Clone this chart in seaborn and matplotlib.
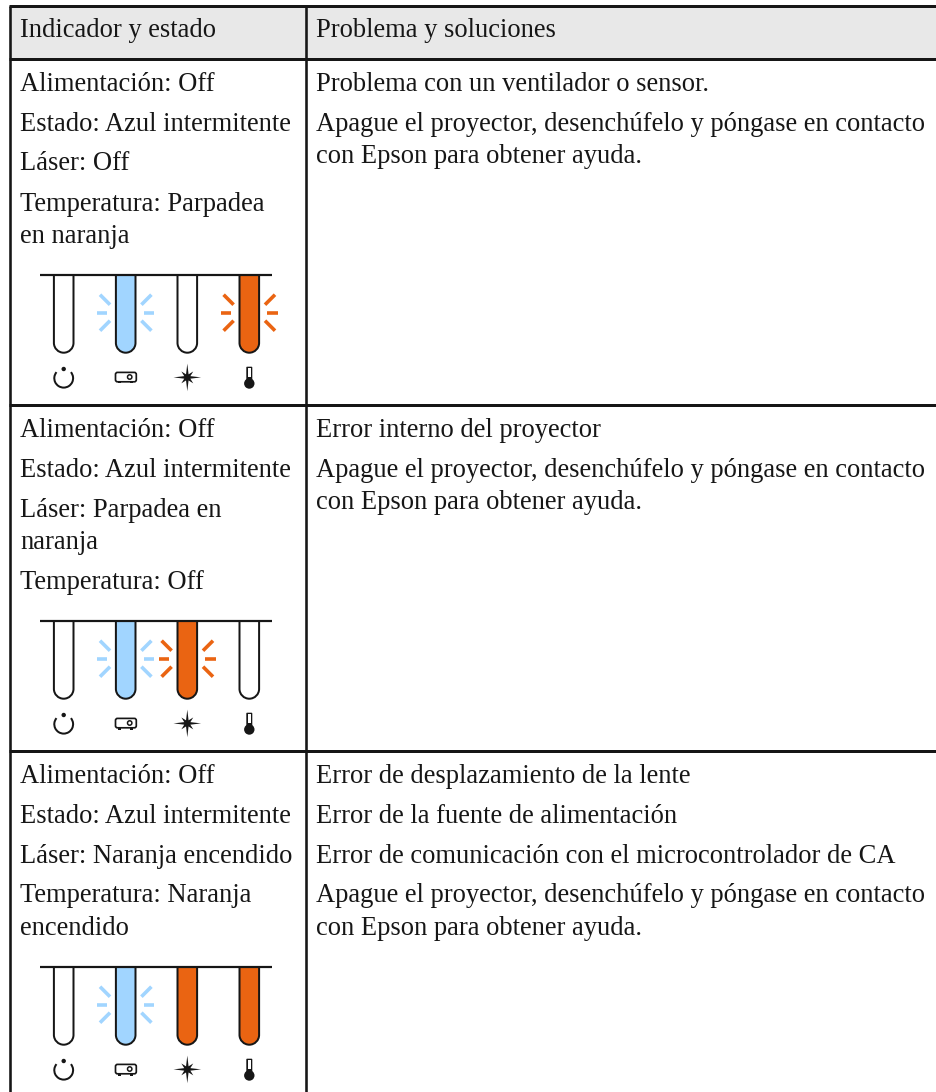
import numpy as np
import pandas as pd
import matplotlib
matplotlib.use("Agg")
import matplotlib.pyplot as plt
from matplotlib.patches import Rectangle, Circle, FancyBboxPatch, PathPatch, Polygon, Arc
from matplotlib.path import Path
import seaborn as sns

# ---------- content ----------
headers = ["Indicador y estado", "Problema y soluciones"]
left_text = [
    ["Alimentación: Off", "Estado: Azul intermitente", "Láser: Off", "Temperatura: Parpadea", "en naranja"],
    ["Alimentación: Off", "Estado: Azul intermitente", "Láser: Parpadea en", "naranja", "Temperatura: Off"],
    ["Alimentación: Off", "Estado: Azul intermitente", "Láser: Naranja encendido", "Temperatura: Naranja", "encendido"],
]
left_base = [
    [90.7, 130.7, 170.3, 211.0, 243.0],
    [436.7, 477.0, 516.7, 549.0, 589.3],
    [783.3, 823.3, 862.7, 902.3, 935.0],
]
right_text = [
    ["Problema con un ventilador o sensor.", "Apague el proyector, desenchúfelo y póngase en contacto", "con Epson para obtener ayuda."],
    ["Error interno del proyector", "Apague el proyector, desenchúfelo y póngase en contacto", "con Epson para obtener ayuda."],
    ["Error de desplazamiento de la lente", "Error de la fuente de alimentación",
     "Error de comunicación con el microcontrolador de CA",
     "Apague el proyector, desenchúfelo y póngase en contacto", "con Epson para obtener ayuda."],
]
right_base = [
    [90.7, 130.7, 163.3],
    [436.7, 477.0, 509.3],
    [783.3, 823.3, 862.7, 902.3, 935.0],
]
indicator_states = [
    ["off", "blink_blue", "off", "blink_orange"],
    ["off", "blink_blue", "blink_orange", "off"],
    ["off", "blink_blue", "on_orange", "on_orange"],
]
panel_tops = [274.7, 620.7, 966.7]
tube_x = [63.7, 125.7, 187.3, 249.3]
icon_names = ["power", "projector", "laser", "temp"]

# table rules
h_rules = [5.7, 59.0, 405.3, 751.3]
v_rules = [10.3, 306.3]

# ---------- style ----------
W, H = 937, 1092
sns.set_theme(style="white")
plt.rcParams["font.family"] = ["Liberation Serif", "DejaVu Serif"]
INK = "#161616"
blue, orange, head_bg = sns.color_palette(["#a1d5ff", "#ea6412", "#e8e8e8"])
FS = 19.1

fig = plt.figure(figsize=(W / 100, H / 100), dpi=100)
ax = fig.add_axes([0, 0, 1, 1])
ax.set_axis_off()
px = 0.72


def seg(xs, ys, unit, color=INK, lw=2.0):
    d = pd.DataFrame({"x": xs, "y": ys, "u": unit})
    sns.lineplot(data=d, x="x", y="y", units="u", estimator=None, sort=False, ax=ax,
                 color=color, lw=lw * px, legend=False, solid_capstyle="butt",
                 solid_joinstyle="miter", zorder=3)


ax.add_patch(Rectangle((v_rules[0], h_rules[0]), W, h_rules[1] - h_rules[0], fc=head_bg, ec="none", zorder=0))

# table rules
for y in h_rules:
    seg([v_rules[0] - 1.3, W], [y, y], 0, lw=3.0)
for x in v_rules:
    seg([x, x], [h_rules[0], H], 0, lw=2.6)

# text
for x, t in zip([20, 316], headers):
    ax.text(x, 36.7, t, fontsize=FS, color=INK, va="baseline", ha="left")
for lines, bases in zip(left_text, left_base):
    for t, b in zip(lines, bases):
        ax.text(20, b, t, fontsize=FS, color=INK, va="baseline", ha="left")
for lines, bases in zip(right_text, right_base):
    for t, b in zip(lines, bases):
        ax.text(316, b, t, fontsize=FS, color=INK, va="baseline", ha="left")


def tube(cx, top, fill):
    hw, r, bottom = 9.8, 9.8, top + 78.0
    k = 0.5523 * r
    verts = [(cx - hw, top), (cx - hw, bottom - r),
             (cx - hw, bottom - r + k), (cx - k, bottom), (cx, bottom),
             (cx + k, bottom), (cx + hw, bottom - r + k), (cx + hw, bottom - r),
             (cx + hw, top)]
    codes = [Path.MOVETO, Path.LINETO, Path.CURVE4, Path.CURVE4, Path.CURVE4,
             Path.CURVE4, Path.CURVE4, Path.CURVE4, Path.LINETO]
    ax.add_patch(PathPatch(Path(verts, codes), fc=fill, ec=INK, lw=2.0 * px, zorder=2, capstyle="butt"))


def rays(cx, top, color):
    cy = top + 38.0
    for sx in (-1, 1):
        seg([cx + sx * 18.2, cx + sx * 28.6], [cy, cy], 0, color=color, lw=3.6)
        for sy in (-1, 1):
            seg([cx + sx * 15.7, cx + sx * 25.7], [cy + sy * 8.0, cy + sy * 18.0], 0, color=color, lw=3.6)


def icon(name, cx, top):
    cy = top + 102.7
    if name == "power":
        ax.add_patch(Arc((cx, cy + 0.8), 18.8, 18.8, theta1=-40, theta2=220, ec=INK, lw=2.0 * px, zorder=3))
        ax.add_patch(Circle((cx, cy - 8.4), 2.2, fc=INK, ec="none", zorder=3))
    elif name == "projector":
        ax.add_patch(FancyBboxPatch((cx - 10.2, cy - 5.0), 20.8, 9.4, boxstyle="round,pad=0,rounding_size=2",
                                    fc="white", ec=INK, lw=1.7 * px, zorder=3))
        ax.add_patch(Circle((cx + 4.0, cy - 0.4), 2.2, fc="white", ec=INK, lw=1.5 * px, zorder=4))
        for dx in (-6.4, 6.0):
            ax.add_patch(Rectangle((cx + dx - 1.3, cy + 4.4), 2.6, 1.7, fc=INK, ec="none", zorder=3))
    elif name == "laser":
        pts = []
        long_r, diag_r, inner = 13.8, 8.4, 3.3
        for i in range(8):
            a = np.pi / 4 * i
            r = long_r if i % 2 == 0 else diag_r
            pts.append((cx + r * np.cos(a), cy + r * np.sin(a)))
            a2 = a + np.pi / 8
            pts.append((cx + inner * np.cos(a2), cy + inner * np.sin(a2)))
        ax.add_patch(Polygon(pts, closed=True, fc=INK, ec="none", zorder=3))
    elif name == "temp":
        ax.add_patch(FancyBboxPatch((cx - 3.0, top + 92.0), 6.0, 16.0, boxstyle="round,pad=0,rounding_size=0.8",
                                    fc=INK, ec="none", zorder=3))
        ax.add_patch(Circle((cx, top + 108.8), 5.2, fc=INK, ec="none", zorder=3))
        ax.add_patch(Rectangle((cx - 1.5, top + 93.6), 3.0, 8.6, fc="white", ec="none", zorder=4))


fills = {"off": "white", "blink_blue": blue, "blink_orange": orange, "on_orange": orange}
for top, states in zip(panel_tops, indicator_states):
    for cx, st, nm in zip(tube_x, states, icon_names):
        if st.startswith("blink"):
            rays(cx, top, blue if "blue" in st else orange)
        tube(cx, top, fills[st])
        icon(nm, cx, top)
    seg([40, 272.5], [top, top], 0, lw=2.2)

ax.set_xlim(0, W)
ax.set_ylim(H, 0)
ax.set_axis_off()
fig.savefig("out.png", dpi=100, facecolor="white")
